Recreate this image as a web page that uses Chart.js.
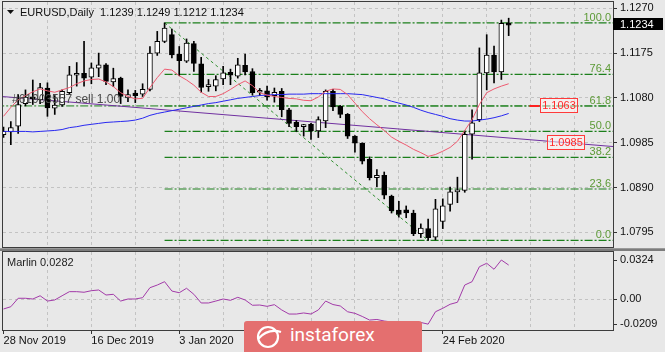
<!DOCTYPE html>
<html>
<head>
<meta charset="utf-8">
<script src="https://cdn.jsdelivr.net/npm/chart.js@4.4.1/dist/chart.umd.min.js"></script>
<style>
html,body{margin:0;padding:0;background:#e8e8e8;}
#wrap{position:relative;width:665px;height:352px;overflow:hidden;background:#e8e8e8;}
#c1{position:absolute;left:0;top:0;}
#c2{position:absolute;left:0;top:249px;}
#wm{position:absolute;left:244px;top:321px;width:178px;height:34px;background:#e46f6f;border-radius:3px;}
#wm span{position:absolute;left:46px;top:2px;font-family:Roboto,"Liberation Sans",sans-serif;font-size:19px;color:#ffffff;letter-spacing:0px;}
#wm svg{position:absolute;left:10px;top:3px;}
</style>
</head>
<body>
<div id="wrap">
  <canvas id="c1" width="665" height="249"></canvas>
  <canvas id="c2" width="665" height="103"></canvas>
  <div id="wm">
    <svg width="30" height="26" viewBox="0 0 30 26"><circle cx="14" cy="13" r="10" fill="none" stroke="#ffffff" stroke-width="2.2"/><path d="M4 15 Q14 4 27 8" fill="none" stroke="#ffffff" stroke-width="2.2"/></svg>
    <span>instaforex</span>
  </div>
</div>
<script>
// ---------------- DATA ----------------
const opens  = [1.1002,1.1008,1.1020,1.1068,1.1082,1.1076,1.1101,1.1058,1.1065,1.1091,
                1.1128,1.1132,1.1124,1.1143,1.1150,1.1114,1.1122,1.1080,1.1090,1.1088,
                1.1098,1.1175,1.1200,1.1214,1.1173,1.1158,1.1195,1.1152,1.1104,1.1105,
                1.1120,1.1134,1.1126,1.1149,1.1136,1.1092,1.1095,1.1085,1.1094,1.1055,
                1.1028,1.1019,1.1024,1.1010,1.1031,1.1094,1.1062,1.1045,1.0999,1.0984,
                1.0950,1.0911,1.0916,1.0872,1.0842,1.0843,1.0836,1.0792,1.0803,1.0785,
                1.0818,1.0854,1.0881,1.0884,1.1003,1.1034,1.1133,1.1171,1.1135,1.1239];
const highs  = [1.1018,1.1030,1.1087,1.1097,1.1118,1.1111,1.1112,1.1085,1.1097,1.1147,
                1.1155,1.1200,1.1154,1.1175,1.1153,1.1143,1.1124,1.1097,1.1096,1.1110,
                1.1189,1.1221,1.1239,1.1226,1.1189,1.1205,1.1200,1.1166,1.1119,1.1127,
                1.1147,1.1141,1.1164,1.1173,1.1142,1.1100,1.1105,1.1101,1.1100,1.1058,
                1.1032,1.1024,1.1026,1.1040,1.1097,1.1098,1.1064,1.1047,1.1000,1.0985,
                1.0955,1.0928,1.0923,1.0874,1.0861,1.0851,1.0842,1.0813,1.0823,1.0865,
                1.0866,1.0891,1.0912,1.1010,1.1055,1.1186,1.1214,1.1190,1.1245,1.1249];
const lows   = [1.0996,1.0981,1.1005,1.1063,1.1066,1.1068,1.1041,1.1045,1.1062,1.1087,
                1.1105,1.1105,1.1110,1.1125,1.1108,1.1104,1.1068,1.1072,1.1070,1.1083,
                1.1095,1.1170,1.1197,1.1165,1.1127,1.1155,1.1136,1.1092,1.1094,1.1095,
                1.1108,1.1108,1.1122,1.1129,1.1086,1.1085,1.1075,1.1071,1.1040,1.1019,
                1.1009,1.0999,1.0992,1.0996,1.1017,1.1053,1.1038,1.0994,1.0965,1.0940,
                1.0906,1.0892,1.0866,1.0836,1.0827,1.0826,1.0788,1.0784,1.0778,1.0779,
                1.0803,1.0840,1.0858,1.0880,1.0950,1.1030,1.1097,1.1112,1.1119,1.1212];
const closes = [1.1009,1.1017,1.1066,1.1082,1.1078,1.1102,1.1059,1.1065,1.1094,1.1129,
                1.1131,1.1122,1.1144,1.1150,1.1115,1.1121,1.1083,1.1087,1.1085,1.1098,
                1.1175,1.1200,1.1228,1.1171,1.1159,1.1196,1.1153,1.1102,1.1106,1.1119,
                1.1133,1.1128,1.1150,1.1135,1.1091,1.1095,1.1082,1.1092,1.1055,1.1026,
                1.1019,1.1023,1.1010,1.1034,1.1094,1.1061,1.1045,1.0999,1.0984,1.0946,
                1.0911,1.0916,1.0874,1.0841,1.0833,1.0836,1.0792,1.0804,1.0784,1.0845,
                1.0851,1.0881,1.0884,1.1003,1.1027,1.1133,1.1171,1.1135,1.1238,1.1234];
// red (fast) moving average
const maFast = [1.1041,1.1060,1.1076,1.1085,1.1093,1.1099,1.1095,1.1092,1.1097,1.1102,
                1.1110,1.1116,1.1119,1.1120,1.1114,1.1104,1.1091,1.1083,1.1078,1.1079,
                1.1102,1.1123,1.1141,1.1139,1.1127,1.1118,1.1107,1.1092,1.1083,1.1083,
                1.1089,1.1098,1.1108,1.1116,1.1106,1.1091,1.1086,1.1083,1.1081,1.1079,
                1.1078,1.1075,1.1074,1.1082,1.1094,1.1099,1.1098,1.1087,1.1069,1.1051,
                1.1036,1.1023,1.1011,1.0997,1.0988,1.0980,1.0971,1.0964,1.0956,1.0960,
                1.0967,1.0975,1.0988,1.1011,1.1034,1.1066,1.1091,1.1099,1.1105,1.1110];
// blue (slow) moving average
const maSlow = [1.1009,1.1009,1.1009,1.1009,1.1008,1.1009,1.1010,1.1011,1.1013,1.1017,
                1.1019,1.1022,1.1024,1.1026,1.1028,1.1029,1.1030,1.1031,1.1033,1.1037,
                1.1043,1.1047,1.1050,1.1053,1.1056,1.1059,1.1062,1.1065,1.1068,1.1070,
                1.1073,1.1076,1.1079,1.1081,1.1083,1.1085,1.1086,1.1087,1.1087,1.1088,
                1.1088,1.1088,1.1089,1.1089,1.1089,1.1089,1.1089,1.1089,1.1088,1.1087,
                1.1084,1.1081,1.1078,1.1073,1.1069,1.1065,1.1060,1.1054,1.1049,1.1045,
                1.1041,1.1036,1.1033,1.1031,1.1031,1.1033,1.1035,1.1038,1.1042,1.1047];
const marlin = [-0.0083,-0.0064,0.0006,0.0006,0.0000,0.0027,-0.0017,-0.0008,0.0027,0.0061,
                0.0061,0.0056,0.0069,0.0075,0.0033,0.0039,-0.0017,0.0000,0.0000,0.0011,
                0.0094,0.0116,0.0144,0.0066,0.0052,0.0089,0.0039,-0.0033,-0.0033,-0.0017,
                0.0000,-0.0011,0.0014,-0.0008,-0.0052,-0.0050,-0.0061,-0.0047,-0.0091,-0.0125,
                -0.0125,-0.0116,-0.0125,-0.0091,-0.0017,-0.0046,-0.0058,-0.0106,-0.0119,-0.0145,
                -0.0175,-0.0170,-0.0183,-0.0191,-0.0191,-0.0191,-0.0195,-0.0195,-0.0209,-0.0106,
                -0.0077,-0.0044,-0.0027,0.0116,0.0144,0.0268,0.0297,0.0247,0.0324,0.0282];

const priceTicks   = [1.0795, 1.0890, 1.0985, 1.1080, 1.1175, 1.1270];
const marlinTicks  = [-0.0209, 0, 0.0324];
const marlinTickText = ['-0.0209', '0.00', '0.0324'];
const gridIdx      = [0, 6, 12, 18, 24, 30, 36, 42, 48, 54, 60, 66, 72, 78];
const dateTickIdx  = [0, 12, 24, 36, 48, 60];
const dateTickText = ['28 Nov 2019', '16 Dec 2019', '3 Jan 2020', '21 Jan 2020', '6 Feb 2020', '24 Feb 2020'];

const fibLevelText = ['100.0', '76.4', '61.8', '50.0', '38.2', '23.6', '0.0'];
const fibPrices    = [1.1239, 1.1130, 1.1063, 1.1009, 1.0954, 1.0887, 1.0778];
const fibSwingIdx  = [22, 58];
const fibSwingPrice= [1.1239, 1.0778];
const trendIdx     = [-1, 84];
const trendPrice   = [1.1084, 1.0976];
const orderPrice   = 1.1063;
const orderText    = '#61903557 sell 1.00';
const boxPrices    = [1.1063, 1.0985];
const boxText      = ['1.1063', '1.0985'];
const titleText    = 'EURUSD,Daily  1.1239 1.1249 1.1212 1.1234';
const marlinName   = 'Marlin';
const marlinLast   = '0.0282';

// ---------------- RENDER ----------------
Chart.defaults.font.family = '"Liberation Sans", Arial, sans-serif';
Chart.defaults.font.size = 11;
Chart.defaults.color = '#111111';

const FONT = '11px "Liberation Sans", Arial, sans-serif';
const GRID = '#c3c3c3';
const FIB = '#1b7f1b';
const X_MIN = -0.07, X_MAX = 83.25, X_END = 84;
const idx = closes.map((_, i) => i);

function zeroPad(s){ s.paddingTop = 0; s.paddingBottom = 0; s.paddingLeft = 0; s.paddingRight = 0; }

const deco1 = {
  id: 'deco1',
  afterDatasetsDraw(chart){
    const {ctx, scales:{x, y}} = chart;
    ctx.save();
    // order label
    ctx.font = '12px "Liberation Sans", Arial, sans-serif';
    ctx.fillStyle = '#4a4a4a';
    ctx.textBaseline = 'alphabetic';
    ctx.textAlign = 'left';
    ctx.fillText(orderText, 12, y.getPixelForValue(orderPrice) - 3);
    // fib level labels
    ctx.font = FONT;
    ctx.textAlign = 'right';
    ctx.fillStyle = '#5c9a36';
    fibPrices.forEach((p, k) => ctx.fillText(fibLevelText[k], 611, y.getPixelForValue(p) - 2));
    // red boxed price labels
    const anchors = [73.3, 74.25];
    boxPrices.forEach((p, k) => {
      const cy = Math.round(y.getPixelForValue(p)) - 0.5;
      const lx = Math.round(x.getPixelForValue(anchors[k])) + 0.5;
      ctx.fillStyle = 'rgba(255,244,244,0.55)';
      ctx.fillRect(lx, cy - 7, 37, 14);
      ctx.strokeStyle = '#ff3a3a';
      ctx.lineWidth = 1;
      ctx.strokeRect(lx, cy - 7, 37, 14);
      ctx.fillStyle = '#ff2a2a';
      ctx.textAlign = 'center';
      ctx.textBaseline = 'middle';
      ctx.fillText(boxText[k], lx + 18.5, cy + 0.5);
      if (k === 0) {
        ctx.strokeStyle = '#ff2020';
        ctx.lineWidth = 2;
        ctx.beginPath(); ctx.moveTo(lx - 11, cy + 0.5); ctx.lineTo(lx - 1, cy + 0.5); ctx.stroke();
      }
    });
    ctx.restore();
  },
  afterDraw(chart){
    const {ctx, chartArea:ca, scales:{y}} = chart;
    ctx.save();
    ctx.strokeStyle = '#3c3c3c';
    ctx.lineWidth = 1;
    ctx.strokeRect(ca.left - 0.5, ca.top - 0.5, ca.right - ca.left + 1, ca.bottom - ca.top + 1);
    ctx.fillStyle = '#9a9a9a';
    ctx.fillRect(0, 248, 665, 1);
    // title
    ctx.fillStyle = '#111';
    ctx.beginPath(); ctx.moveTo(7, 10); ctx.lineTo(14, 10); ctx.lineTo(10.5, 14); ctx.closePath(); ctx.fill();
    ctx.font = FONT;
    ctx.textAlign = 'left';
    ctx.textBaseline = 'middle';
    ctx.fillText(titleText, 20, 12.5);
    // current price box
    const cy = Math.round(y.getPixelForValue(closes[closes.length - 1])) - 1;
    ctx.fillStyle = '#000';
    ctx.fillRect(613, cy - 6, 50, 12);
    ctx.fillStyle = '#fff';
    ctx.fillText(closes[closes.length - 1].toFixed(4), 620, cy + 0.5);
    ctx.restore();
  }
};

const lineDs = (pts, color, extra) => Object.assign({
  type: 'line', data: pts, borderColor: color, borderWidth: 1,
  pointRadius: 0, pointHoverRadius: 0, fill: false, tension: 0
}, extra || {});

const fibSets = fibPrices.map(p => lineDs([{x: fibSwingIdx[0], y: p}, {x: X_END, y: p}], FIB, {borderDash: [8, 2, 2, 2], borderWidth: 1.1, order: 10}));

new Chart(document.getElementById('c1'), {
  type: 'bar',
  data: {
    datasets: [
      ...fibSets,
      lineDs([{x: -1, y: orderPrice}, {x: X_END, y: orderPrice}], FIB, {borderDash: [8, 2, 2, 2], order: 10}),
      lineDs(fibSwingIdx.map((v, k) => ({x: v, y: fibSwingPrice[k]})), '#2f8f2f', {borderDash: [3, 3], order: 9}),
      lineDs(trendIdx.map((v, k) => ({x: v, y: trendPrice[k]})), '#7030a0', {order: 8}),
      {type: 'bar', data: idx.map(i => ({x: i, y: [lows[i], highs[i]]})),
       backgroundColor: '#000', barThickness: 1, grouped: false, order: 5},
      {type: 'bar', data: idx.map(i => ({x: i, y: [opens[i], closes[i]]})),
       backgroundColor: idx.map(i => closes[i] >= opens[i] ? '#ffffff' : '#000000'),
       borderColor: '#000', borderWidth: 1, borderSkipped: false, barThickness: 5,
       minBarLength: 2, grouped: false, order: 4},
      lineDs(idx.map(i => ({x: i, y: maSlow[i]})), '#2828f0', {order: 2}),
      lineDs(idx.map(i => ({x: i, y: maFast[i]})), '#ee5a70', {order: 1})
    ]
  },
  options: {
    responsive: false, animation: false, devicePixelRatio: 1,
    layout: {padding: {left: 3, top: 2, right: 0, bottom: 2}},
    plugins: {legend: {display: false}, tooltip: {enabled: false}},
    scales: {
      x: {
        type: 'linear', min: X_MIN, max: X_MAX, offset: false,
        grid: {color: c => (c.tick && c.tick.value === 0) ? 'rgba(0,0,0,0)' : GRID, drawTicks: false, offset: false},
        border: {display: false, dash: [3, 3]},
        ticks: {display: false},
        afterBuildTicks: s => { s.ticks = gridIdx.map(v => ({value: v})); },
        afterFit: s => { s.height = 0; zeroPad(s); }
      },
      y: {
        position: 'right', min: 1.0764, max: 1.12833, beginAtZero: false,
        grid: {color: GRID, tickLength: 4, tickColor: '#333', drawTicks: true},
        border: {display: false, dash: [3, 3]},
        ticks: {color: '#111', padding: 3, callback: v => v.toFixed(4)},
        afterBuildTicks: s => { s.ticks = priceTicks.map(v => ({value: v})); },
        afterFit: s => { s.width = 52; zeroPad(s); }
      }
    }
  },
  plugins: [deco1]
});

const deco2 = {
  id: 'deco2',
  afterDraw(chart){
    const {ctx, chartArea:ca} = chart;
    ctx.save();
    ctx.fillStyle = '#7c7c7c';
    ctx.fillRect(0, 0, 665, 2);
    ctx.strokeStyle = '#3c3c3c';
    ctx.lineWidth = 1;
    ctx.strokeRect(ca.left - 0.5, ca.top - 0.5, ca.right - ca.left + 1, ca.bottom - ca.top + 1);
    ctx.font = FONT;
    ctx.fillStyle = '#222';
    ctx.textAlign = 'left';
    ctx.textBaseline = 'alphabetic';
    ctx.fillText(marlinName + ' ' + marlinLast, 7, 16.5);
    ctx.restore();
  }
};

new Chart(document.getElementById('c2'), {
  type: 'line',
  data: {
    datasets: [
      lineDs(idx.map(i => ({x: i, y: marlin[i]})), '#a23aa8', {})
    ]
  },
  options: {
    responsive: false, animation: false, devicePixelRatio: 1,
    layout: {padding: {left: 3, top: 3, right: 0, bottom: 0}},
    plugins: {legend: {display: false}, tooltip: {enabled: false}},
    scales: {
      x: {
        type: 'linear', min: X_MIN, max: X_MAX, offset: false,
        grid: {
          color: c => (c.tick && c.tick.value === 0) ? 'rgba(0,0,0,0)' : GRID,
          tickColor: c => (c.tick && dateTickIdx.includes(c.tick.value)) ? '#333' : 'rgba(0,0,0,0)',
          tickLength: 4, drawTicks: true, offset: false
        },
        border: {display: false, dash: [3, 3]},
        ticks: {
          color: '#111', padding: 0, align: 'start', autoSkip: false, maxRotation: 0, minRotation: 0,
          callback: v => { const k = dateTickIdx.indexOf(v); return k >= 0 ? dateTickText[k] : ''; }
        },
        afterBuildTicks: s => { s.ticks = gridIdx.map(v => ({value: v})); },
        afterFit: s => { s.height = 22; zeroPad(s); }
      },
      y: {
        position: 'right', min: -0.02576, max: 0.03906, beginAtZero: false,
        grid: {
          color: c => (c.tick && c.tick.value === 0) ? GRID : 'rgba(0,0,0,0)',
          tickColor: '#333', tickLength: 4, drawTicks: true
        },
        border: {display: false, dash: [3, 3]},
        ticks: {color: '#111', padding: 3, callback: (v, i) => marlinTickText[i]},
        afterBuildTicks: s => { s.ticks = marlinTicks.map(v => ({value: v})); },
        afterFit: s => { s.width = 52; zeroPad(s); }
      }
    }
  },
  plugins: [deco2]
});
</script>
</body>
</html>
